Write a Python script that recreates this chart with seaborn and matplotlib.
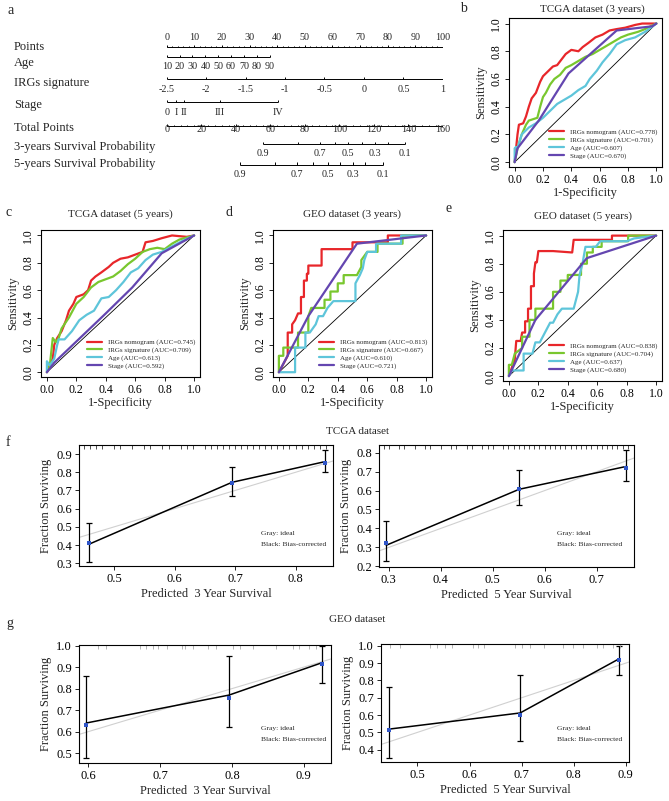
import pandas as pd
import seaborn as sns
import matplotlib.pyplot as plt
from matplotlib.lines import Line2D
from matplotlib.ticker import FormatStrFormatter

W, H = 669, 801

# ---- nomogram (a) ----
points_ticks = [0, 10, 20, 30, 40, 50, 60, 70, 80, 90, 100]
age_vals = [10, 20, 30, 40, 50, 60, 70, 80, 90]
age_pts = [0, 4.7, 9.3, 14.0, 18.7, 23.3, 28.0, 32.6, 37.3]
sig_labels = ['-2.5', '-2', '-1.5', '-1', '-0.5', '0', '0.5', '1']
sig_pts = [0, 14.3, 28.6, 42.9, 57.1, 71.4, 85.7, 100]
stage_labels = ['0', 'I', 'II', 'III', 'IV']
stage_pts = [0, 3.4, 6.4, 19.3, 40.2]
total_ticks = [0, 20, 40, 60, 80, 100, 120, 140, 160]
surv_probs = [0.9, 0.8, 0.7, 0.6, 0.5, 0.4, 0.3, 0.2, 0.1]
surv3_total = [55.9, 75.8, 88.8, 97.5, 105.2, 112.9, 120.6, 128.3, 138.0]
surv5_total = [42.4, 62.7, 75.3, 84.9, 93.6, 100.3, 108.1, 114.8, 125.1]

# ---- ROC curves (b-e): (fpr list, tpr list) per model ----
models = ['IRGs nomogram', 'IRGs signature', 'Age', 'Stage']
colors = ['#E8262A', '#79C72E', '#5EC5DA', '#6446B0']

b_auc = ['0.778', '0.701', '0.607', '0.670']
b_red = ([0, .01, .02, .03, .06, .08, .10, .12, .15, .18, .20, .23, .27, .30, .33, .36, .40, .45, .48, .52, .57, .62, .67, .72, .78, .85, .90, 1],
         [0, .10, .20, .27, .28, .33, .40, .46, .50, .58, .62, .65, .69, .70, .74, .78, .81, .80, .83, .86, .90, .92, .95, .96, .97, .99, 1.0, 1])
b_green = ([0, .02, .05, .08, .10, .13, .16, .18, .20, .22, .25, .28, .32, .36, .40, .45, .50, .55, .60, .65, .70, .75, .80, .87, .92, 1],
           [0, .10, .20, .27, .30, .31, .32, .40, .47, .50, .56, .60, .63, .68, .70, .73, .76, .78, .81, .84, .87, .90, .92, .94, .96, 1])
b_cyan = ([0, 0, .01, .02, .05, .10, .15, .20, .25, .30, .35, .40, .45, .50, .53, .58, .62, .67, .72, .78, .85, .92, 1],
          [0, .10, .11, .10, .20, .25, .28, .32, .37, .42, .45, .48, .52, .55, .60, .66, .72, .78, .85, .88, .90, .94, 1])
b_purple = ([0, .02, .17, .38, .72, .97, 1], [0, .10, .30, .64, .95, .98, 1])

c_auc = ['0.745', '0.709', '0.613', '0.592']
c_red = ([0, .02, .04, .05, .07, .10, .13, .15, .18, .20, .25, .28, .30, .33, .37, .42, .45, .50, .55, .60, .65, .67, .72, .78, .85, .95, 1],
         [0, .05, .10, .20, .25, .30, .38, .45, .50, .55, .57, .60, .67, .70, .73, .77, .80, .83, .84, .86, .88, .95, .96, .98, 1.0, .99, 1])
c_green = ([0, .02, .04, .06, .08, .10, .15, .20, .25, .30, .35, .40, .45, .50, .55, .60, .65, .70, .75, .80, .85, .90, 1],
           [0, .05, .25, .22, .25, .32, .40, .50, .55, .62, .66, .68, .70, .74, .79, .83, .88, .90, .91, .90, .94, .97, 1])
c_cyan = ([0, 0, .02, .05, .07, .08, .12, .17, .22, .27, .32, .37, .42, .47, .52, .57, .62, .67, .72, .78, .85, .92, 1],
          [0, .08, .05, .10, .20, .24, .24, .30, .38, .42, .45, .54, .55, .60, .66, .73, .76, .82, .86, .88, .92, .96, 1])
c_purple = ([0, .05, .40, .58, .78, 1], [0, .07, .43, .62, .87, 1])

d_auc = ['0.813', '0.667', '0.610', '0.721']
d_red = ([0, .06, .06, .09, .09, .11, .13, .15, .15, .17, .17, .19, .19, .20, .20, .29, .29, .50, .50, .74, .74, 1],
         [0, .12, .29, .29, .35, .38, .43, .43, .55, .55, .67, .67, .72, .72, .78, .78, .90, .90, .95, .95, 1.0, 1])
d_green = ([0, 0, .03, .03, .13, .13, .20, .20, .22, .31, .31, .35, .35, .40, .40, .44, .44, .53, .56, .56, .60, .67, .67, .84, .84, 1],
           [0, .12, .12, .18, .18, .29, .29, .41, .47, .47, .53, .53, .59, .59, .65, .65, .71, .71, .77, .82, .88, .88, .94, .94, 1.0, 1])
d_cyan = ([0, .11, .11, .18, .18, .21, .25, .27, .30, .33, .37, .52, .52, .55, .57, .58, .60, .66, .66, .83, .83, 1],
          [0, 0, .18, .18, .29, .29, .35, .41, .41, .47, .52, .52, .65, .71, .76, .82, .88, .88, .94, .94, 1.0, 1])
d_purple = ([0, .20, .53, 1], [0, .41, .94, 1])

e_auc = ['0.838', '0.704', '0.637', '0.680']
e_red = ([0, .04, .05, .08, .09, .11, .11, .13, .13, .15, .15, .17, .17, .18, .19, .20, .30, .43, .44, .70, .70, 1],
         [0, .12, .25, .25, .31, .31, .39, .39, .48, .48, .64, .64, .73, .81, .81, .89, .89, .88, .97, .97, 1.0, 1])
e_green = ([0, 0, .02, .04, .09, .09, .14, .14, .18, .18, .30, .30, .35, .35, .40, .40, .49, .49, .53, .53, .57, .57, .63, .63, .81, .81, 1],
           [0, .08, .08, .16, .20, .28, .28, .40, .40, .48, .48, .60, .60, .68, .68, .72, .72, .80, .80, .88, .88, .92, .92, .96, .96, 1.0, 1])
e_cyan = ([0, .02, .10, .10, .16, .18, .21, .25, .28, .30, .33, .36, .44, .47, .48, .50, .52, .59, .62, .80, .85, 1],
          [0, .04, .04, .16, .16, .24, .24, .32, .38, .38, .44, .48, .48, .60, .72, .80, .92, .92, .96, .96, .98, 1])
e_purple = ([0, .18, .53, 1], [0, .40, .84, 1])

# ---- calibration (f, g) ----
f3_pred = [0.458, 0.695, 0.848]
f3_obs = [0.414, 0.743, 0.852]
f3_corr = [0.404, 0.745, 0.858]
f3_lo = [0.309, 0.670, 0.800]
f3_hi = [0.520, 0.827, 0.925]
f3_rug = [0.45, 0.46, 0.47, 0.48, 0.50, 0.51, 0.53, 0.55, 0.56, 0.58, 0.59, 0.61, 0.62, 0.63, 0.65, 0.66,
          0.67, 0.68, 0.69, 0.70, 0.71, 0.72, 0.73, 0.74, 0.75, 0.76, 0.77, 0.78, 0.79, 0.80, 0.81, 0.82,
          0.83, 0.84, 0.85]

f5_pred = [0.295, 0.551, 0.756]
f5_obs = [0.324, 0.608, 0.718]
f5_corr = [0.311, 0.607, 0.727]
f5_lo = [0.227, 0.523, 0.650]
f5_hi = [0.440, 0.709, 0.815]
f5_rug = [0.29, 0.30, 0.32, 0.33, 0.35, 0.37, 0.38, 0.40, 0.42, 0.43, 0.45, 0.46, 0.48, 0.49, 0.50, 0.52,
          0.53, 0.54, 0.55, 0.56, 0.57, 0.58, 0.59, 0.60, 0.61, 0.62, 0.63, 0.64, 0.65, 0.66, 0.67, 0.68,
          0.69, 0.70, 0.71, 0.72, 0.73, 0.74, 0.75, 0.76]

g3_pred = [0.597, 0.796, 0.925]
g3_obs = [0.632, 0.758, 0.913]
g3_corr = [0.640, 0.770, 0.920]
g3_lo = [0.477, 0.620, 0.825]
g3_hi = [0.859, 0.952, 1.000]
g3_rug = [0.614, 0.625, 0.672, 0.681, 0.690, 0.697, 0.709, 0.730, 0.734, 0.746, 0.767, 0.778,
          0.802, 0.811, 0.829, 0.862, 0.885, 0.894, 0.908, 0.917]

g5_pred = [0.446, 0.697, 0.886]
g5_obs = [0.511, 0.598, 0.918]
g5_corr = [0.519, 0.612, 0.923]
g5_lo = [0.352, 0.452, 0.830]
g5_hi = [0.759, 0.833, 1.000]
g5_rug = [0.448, 0.467, 0.524, 0.537, 0.553, 0.566, 0.607, 0.617, 0.627, 0.687, 0.700, 0.716,
          0.742, 0.780, 0.799, 0.818, 0.844, 0.857, 0.876, 0.889]

sns.set_theme(style="ticks")
plt.rcParams['font.family'] = ['Liberation Serif', 'DejaVu Serif']
plt.rcParams['axes.edgecolor'] = 'black'
plt.rcParams['xtick.color'] = 'black'
plt.rcParams['ytick.color'] = 'black'

fig = plt.figure(figsize=(W / 100, H / 100), dpi=100)


def box(l, t, r, b):
    return [l / W, 1 - b / H, (r - l) / W, (b - t) / H]


def ftext(px, py, s, **kw):
    fig.text(px / W, 1 - py / H, s, **kw)


# ---------------- a: nomogram ----------------
ax = fig.add_axes(box(166.7, 25, 443, 185))
ax.set_xlim(0, 100)
ax.set_ylim(185, 25)
ax.axis('off')
tr = ax.get_yaxis_transform()
LAB_X = (14 - 166.7) / 276.3
kk = dict(color='black', lw=0.7, solid_capstyle='butt')


def scale_row(y, pos, labels, lab_y, up=False, minor=None, fs=7.3):
    ax.plot([min(pos), max(pos)], [y, y], **kk)
    d = -2.5 if up else 2.5
    for p in pos:
        ax.plot([p, p], [y, y + d], **kk)
    if minor is not None:
        for p in minor:
            ax.plot([p, p], [y, y + d * 0.5], **kk)
    for p, s in zip(pos, labels):
        if s:
            ax.text(p, lab_y, s, ha='center', va='center', fontsize=fs)


scale_row(47, points_ticks, [str(v) for v in points_ticks], 37, up=True,
          minor=[v for v in range(0, 101, 2)])
scale_row(57, age_pts, [str(v) for v in age_vals], 66.5, up=True)
scale_row(79, sig_pts, sig_labels, 90, up=True)
scale_row(102, stage_pts, stage_labels, 112.5, up=True)
tp = [t * 100 / 160 for t in total_ticks]
scale_row(126, tp, [str(v) for v in total_ticks], 130, up=True,
          minor=[v * 100 / 160 for v in range(0, 161, 4)])
s3 = [t * 100 / 160 for t in surv3_total]
s5 = [t * 100 / 160 for t in surv5_total]
odd = [f'{p:.1f}' if i % 2 == 0 else '' for i, p in enumerate(surv_probs)]
scale_row(144.3, s3, odd, 154, up=True)
scale_row(164.7, s5, odd, 174.5, up=True)

row_names = ['Points', 'Age', 'IRGs signature', 'Stage', 'Total Points',
             '3-years Survival Probability', '5-years Survival Probability']
row_y = [47, 63, 83, 105, 128, 147, 164]
for name, y in zip(row_names, row_y):
    ax.text(LAB_X, y, name, transform=tr, ha='left', va='center', fontsize=9)
ftext(7, 10, 'a', fontsize=10, va='center')


# ---------------- b-e: ROC ----------------
def roc_panel(rect, curves, aucs, title, title_xy, letter, letter_xy):
    a = fig.add_axes(box(*rect))
    frames = []
    for m, (xs, ys) in zip(models, curves):
        frames.append(pd.DataFrame({'fpr': xs, 'tpr': ys, 'model': m}))
    df = pd.concat(frames, ignore_index=True)
    a.plot([0, 1], [0, 1], color='black', lw=0.6)
    sns.lineplot(data=df, x='fpr', y='tpr', hue='model', palette=colors,
                 hue_order=models, sort=False, estimator=None, lw=1.6,
                 legend=False, ax=a)
    a.set_xlim(-0.04, 1.04)
    a.set_ylim(-0.035, 1.04)
    ticks = [0, 0.2, 0.4, 0.6, 0.8, 1.0]
    a.set_xticks(ticks)
    a.set_yticks(ticks)
    a.xaxis.set_major_formatter(FormatStrFormatter('%.1f'))
    a.yaxis.set_major_formatter(FormatStrFormatter('%.1f'))
    a.tick_params(direction='out', length=3, width=0.6, labelsize=8.5, pad=2)
    for lb in a.get_yticklabels():
        lb.set_rotation(90)
        lb.set_va('center')
    a.set_xlabel('1-Specificity', fontsize=9, labelpad=1)
    a.set_ylabel('Sensitivity', fontsize=9, labelpad=2)
    for sp in a.spines.values():
        sp.set_linewidth(0.8)
    handles = [Line2D([0], [0], color=c, lw=1.6) for c in colors]
    labels = [f'{m} (AUC={v})' for m, v in zip(models, aucs)]
    a.legend(handles, labels, loc='lower right', bbox_to_anchor=(1.0, 0.02),
             frameon=False, fontsize=5.0, handlelength=2.2, labelspacing=0.25,
             handletextpad=0.8, borderaxespad=0.3)
    ftext(title_xy[0], title_xy[1], title, fontsize=8, ha='center', va='center')
    ftext(letter_xy[0], letter_xy[1], letter, fontsize=10, va='center')
    return a


roc_panel((509, 18, 662, 167), [b_red, b_green, b_cyan, b_purple], b_auc,
          'TCGA dataset (3 years)', (592, 9), 'b', (460, 8))
roc_panel((41, 230, 200, 377), [c_red, c_green, c_cyan, c_purple], c_auc,
          'TCGA dataset (5 years)', (120, 214), 'c', (6, 212))
roc_panel((273, 230, 432, 377), [d_red, d_green, d_cyan, d_purple], d_auc,
          'GEO dataset (3 years)', (352, 214), 'd', (226, 212))
roc_panel((503, 230, 662, 381), [e_red, e_green, e_cyan, e_purple], e_auc,
          'GEO dataset (5 years)', (583, 216), 'e', (446, 208))


# ---------------- f, g: calibration ----------------
def cal_panel(rect, pred, obs, corr, lo, hi, rug, xlim, ylim, xticks, yticks,
              years, txt_xy, rug_color):
    a = fig.add_axes(box(*rect))
    a.axline((0, 0), (1, 1), color='#D0D0D0', lw=0.8)
    a.errorbar(pred, obs, yerr=[[o - l for o, l in zip(obs, lo)], [h - o for o, h in zip(obs, hi)]],
               fmt='none', ecolor='black', elinewidth=0.9, capsize=2, capthick=0.9)
    line_df = pd.DataFrame({'pred': pred, 'corr': corr})
    sns.lineplot(data=line_df, x='pred', y='corr', color='black', lw=1.1, ax=a)
    sns.scatterplot(x=pred, y=obs, marker='s', s=5, color='#2F55C8', linewidth=0, ax=a, zorder=5)
    top = ylim[1]
    rl = (ylim[1] - ylim[0]) * 0.035
    a.vlines(rug, top - rl, top, color=rug_color, lw=0.6)
    a.set_xlim(*xlim)
    a.set_ylim(*ylim)
    a.set_xticks(xticks)
    a.set_yticks(yticks)
    a.xaxis.set_major_formatter(FormatStrFormatter('%.1f'))
    a.yaxis.set_major_formatter(FormatStrFormatter('%.1f'))
    a.tick_params(direction='out', length=3, width=0.6, labelsize=9, pad=2)
    a.set_xlabel(f'Predicted  {years} Year Survival', fontsize=9, labelpad=2)
    a.set_ylabel('Fraction Surviving', fontsize=9, labelpad=3)
    for sp in a.spines.values():
        sp.set_linewidth(0.8)
    a.text(txt_xy[0], txt_xy[1], 'Gray: ideal', transform=a.transAxes, fontsize=5.4, va='center')
    a.text(txt_xy[0], txt_xy[1] - 0.095, 'Black: Bias-corrected', transform=a.transAxes,
           fontsize=5.4, va='center')
    return a


cal_panel((79, 445, 333, 566), f3_pred, f3_obs, f3_corr, f3_lo, f3_hi, f3_rug,
          (0.442, 0.862), (0.285, 0.95), [0.5, 0.6, 0.7, 0.8],
          [0.3, 0.4, 0.5, 0.6, 0.7, 0.8, 0.9], 3, (0.717, 0.27), '#333333')
cal_panel((379, 445, 634, 567), f5_pred, f5_obs, f5_corr, f5_lo, f5_hi, f5_rug,
          (0.281, 0.772), (0.196, 0.841), [0.3, 0.4, 0.5, 0.6, 0.7],
          [0.2, 0.3, 0.4, 0.5, 0.6, 0.7, 0.8], 5, (0.697, 0.276), '#333333')
cal_panel((79, 645, 331, 763), g3_pred, g3_obs, g3_corr, g3_lo, g3_hi, g3_rug,
          (0.587, 0.938), (0.454, 1.003), [0.6, 0.7, 0.8, 0.9],
          [0.5, 0.6, 0.7, 0.8, 0.9, 1.0], 3, (0.722, 0.294), '#AAAAAA')
cal_panel((381, 644, 629, 762), g5_pred, g5_obs, g5_corr, g5_lo, g5_hi, g5_rug,
          (0.43, 0.906), (0.329, 1.01), [0.5, 0.6, 0.7, 0.8, 0.9],
          [0.4, 0.5, 0.6, 0.7, 0.8, 0.9, 1.0], 5, (0.708, 0.286), '#AAAAAA')

ftext(357, 431, 'TCGA dataset', fontsize=8, ha='center', va='center')
ftext(357, 620, 'GEO dataset', fontsize=8, ha='center', va='center')
ftext(6, 442, 'f', fontsize=10, va='center')
ftext(6, 623, 'g', fontsize=10, va='center')

fig.savefig('out.png', dpi=100)
